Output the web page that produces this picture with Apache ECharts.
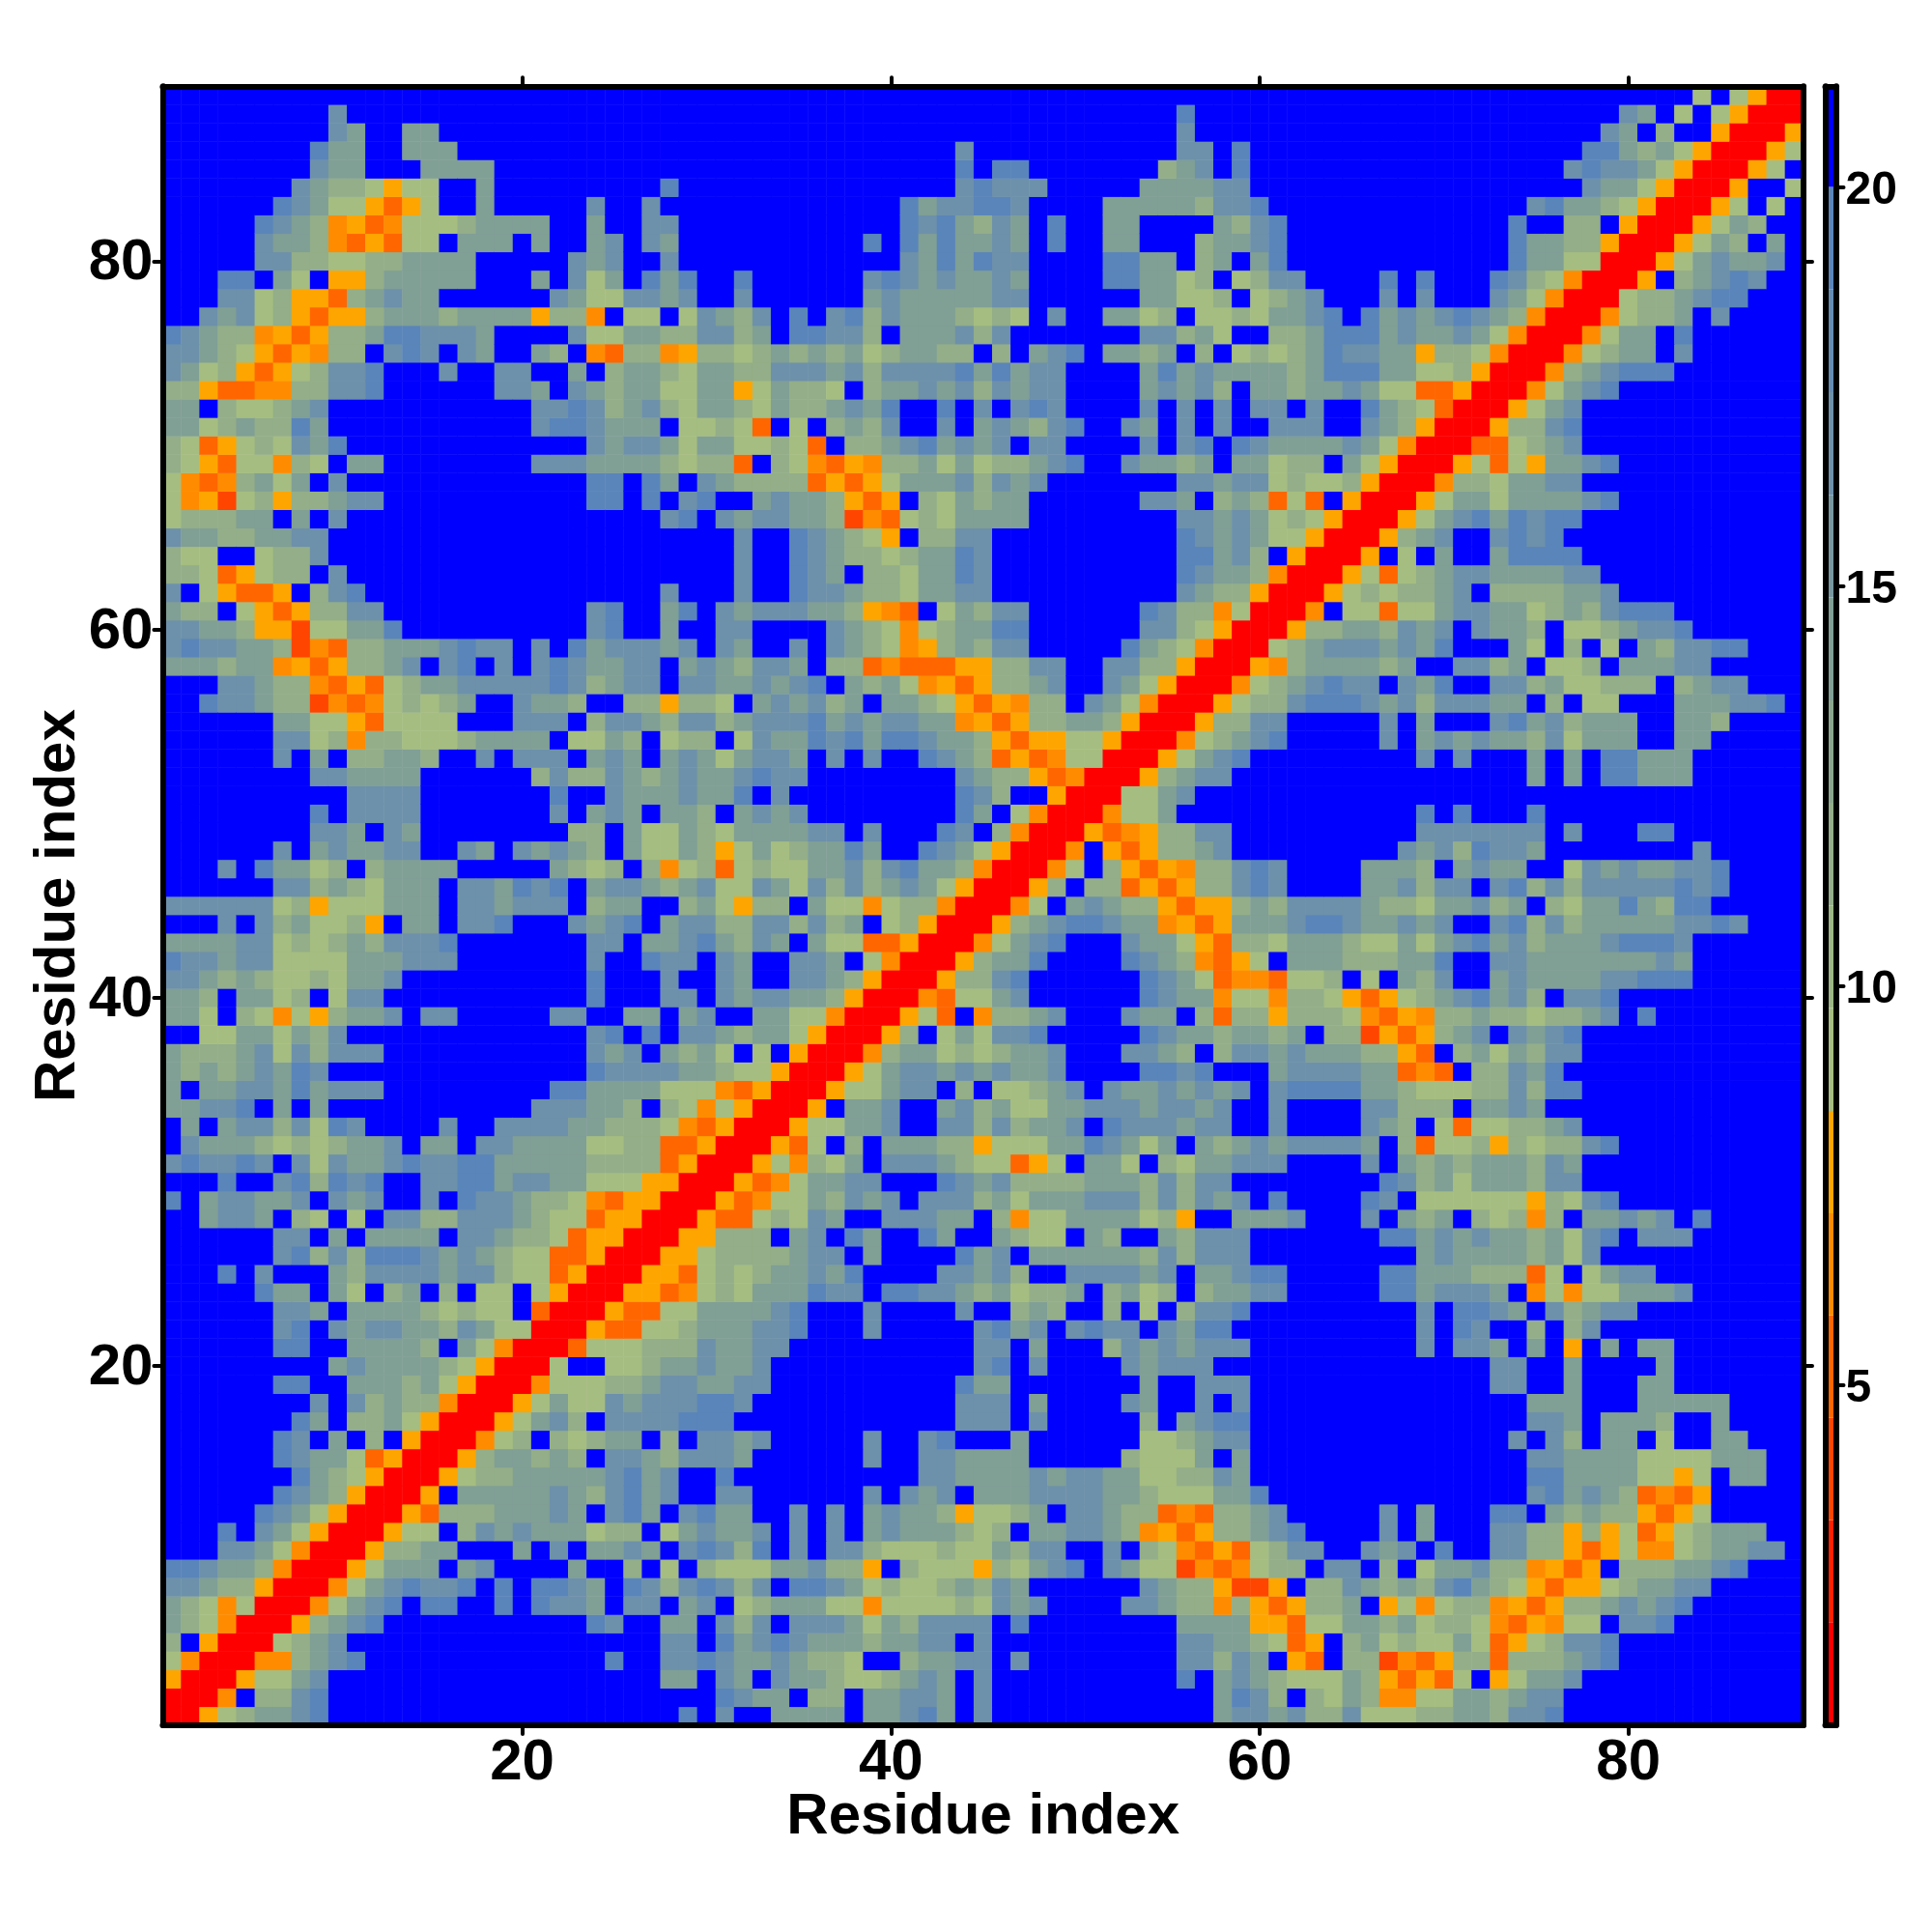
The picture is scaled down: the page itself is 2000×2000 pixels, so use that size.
<!DOCTYPE html>
<html><head><meta charset="utf-8">
<style>html,body{margin:0;padding:0;background:#fff}#c{width:2000px;height:2000px}</style>
<script src="https://cdn.jsdelivr.net/npm/echarts@6/dist/echarts.min.js"></script>
</head><body><div id="c"></div>
<script>
// Upper triangle of the symmetric matrix: each row r begins at column r,
// spaces mark column decades. Codes name a distance bin of the colour scale.
const rowsUpper = [
"RR5abccde. .......... ........e. d..cccc.cc dec.d..... .......cdd cdbbdaaabb ccbdde.... .........",
"RR4.bbde. .......... .......... edcc.bb.cc ddc.d..... .......ced b.bacb44aa ccbcdd.... .........",
"RR5aacd. .......... .......cc. dc.dccbaab cdc.d..... .....e.cdc baaacb5353 a.5accd... .........",
"RR44bcd e......... ....e..dde dccdcbba.. bccdd.d... .....ddbdc .53.bb2435 bb3bbbcde. .........",
"RRabcd .......... .......dd. ecdedcccbc cdd.d..... .....ddccb a35.bcabaa ca35abdde. .........",
"RR5bc de........ ...ed..cc. dbd.dddcac bdddd.e... .....cccc5 53aaccbcab ba4354aa.d de.......",
"RR4a cde.ee..e. eddc.dd.cd .abcccaa4a aaabadcd.. ..ddcbb4b5 35bbc.5a4a bb4535bbcd cde......",
"RR4 acdedde.e. eedc.edbde dbd.eedcab aabcbdc... ...dcbb522 5.bbdcbcbd ecba5355ab ccdd.....",
"RR 5accc.cd.. ..c..b.a.b aaaccdbb5. baaa5bacde .dcaa2434a bb.dd.b.ac cdbb4535.b bbccde...",
"R R5bbcc...c .d.ccdc.de dbe.d.ddba aabaacbdd. .d.ba4353a bdd..dcd.e ..ddbb535a 44abccdd.",
"RR5aa.bdcd cccabb.acd ccd.d.d.cd cccbab.ccd dcb4535bbc de....d.c. ..ddbb5b5a 35abccc..",
"RR53bbbcc cdc.dec.de cc..d.d.cd ccb5aabc.d dcbb343bbc d.....d.c. ..ee.cbcbb 535a.....",
"RR5.cccc cdcbdecd.. dd......d. dcd.cccddd dccbaaacce .......... ....decdcb 3435.....",
"RR5abbc ccccdecd.. e......... .ddccccdcd dccaabbdc. .......... ....eecccc aa5a.cc..",
"RR5bcc bcb.ddcbdd dc......d. .ddcccc... ..baaac.c. .......... ....ddcccc aaaaccc..",
"RR4ab .babcc.b.d dcd.....d. .de...c... ...aabcdd. .......... ...d.db.cc .a..cc...",
"RR5a cdb.ddddee e......... ...ddd.d.. ...b.cdee. .......... ....ddc.cc cb..c....",
"RR5 acaadcddde ed........ ...ddd.c.. ..dc..d.d. .......... ....ccc... ccccc....",
"RR 4aaabbcddc cdd....... ...ecc.... ...c..ddd. .......... ..dd..c... cc.......",
"R Ra..aabccd ccd....... ....de.d.. ..dcddd... .......... ..dd..c... .c.......",
"RR3aaabbbd ccdd...... ....dd.c.. .bdcdcddd. ........d. ddc.c.5.c. cc.......",
"RR533aabc ccdde...d. ....decd.d edd.dcee.. ........d. ed..b.bd.. .........",
"RR533aac cccde...d. ...d..bcb. .b.a.bdde. ........d. eedc.dbcdd .........",
"RR5534a bacccedd.e eddcbcabbc .bcab.bccd d.....eecd ddc.4a4aac ccd......",
"RR553a babccdce.. ..ddcdb..d dddcd.ccde e.....eecc cbbb3a.acd d........",
"RR55a bbbbcdd.c. ...ecd.ccc cccbdbddd. ........cd ccccbcad.. .........",
"RR55 bbb.cd.ec. .ec..cbaa. cb..cbddd. ......eecd cdccbcade. ddd......",
"RR5 33abadc..d ddcc.b4aac cccab5..cc cd...d.cbc .bab4b.ccd cd.e.....",
"RR 534aacbdcd .dddbcaccc dddbdbdcd. e....ed.aa aaaa5bade. .........",
"R R534accdd. ..edcdbbbb cccbdbdd.. ......edbc acccbdd... .........",
"RR5a4bac.d ddcbaa35a. cca.baccdd d....d.cbc bcccbdc... .........",
"RR53a.b.c ccbb5aaacc edcac.cbcd cddddc.b3a ab5babbde. .........",
"RR5aaccd ..ddbdbccd .edddcdd.. d....dcb.a 3aabbcd... .........",
"RR5.ccd ..cdbcaacc dddcddcd.. d....ddbbb .ccdc..... .........",
"RR5aac dd.b.aabcd .dccdcdcd. deeeeccbaa abbdbee... .........",
"RR5ac ddcdcdccd. ...eede... cddddcc343 .bbdce.... .........",
"RR4b ccababccd. ..ddcb.bdd cdcccbb53. bcacbdd... .........",
"RR5 b.acadde.. ...edccbcc bc.bb2535b cd.dcde... .........",
"RR 5a3.4bbcd. ..dcc.b3bb 5bbba4354b bcbbabbcd. e........",
"R R43aacd... ...edcc4aa 4bba535abc decdb.dde. .........",
"RR5bbde... ...edca344 3aab.a.cbd ..cdccccdd eee......",
"RR5bcce.. ..edcb435a .cccbbbcce ..ddcccccc cdc......",
"RR4acde. ..dcca53bb acccbaacac decdbcccde eed......",
"RR5bcde edcc4535cc cdeedccdcd ..debdbccc ccdded...",
"RR4a.c dcbb5355bc bddddcbbac cdbc.bacce cbee.....",
"RR5b. bb3535bbde d....ccdbd d.debdbddd ddede....",
"RR4a .b5354bbde d....cccb. cdcc..adcd ccdde....",
"RR4 .535bbcd.. .......dcd beddc..... ...d.....",
"RR 5345bbdd.. ........dd ddddd.d... ee.......",
"R R4aac..... ........e. e...e..... .........",
"RRaacd.... .......... .......... .........",
"RR5bcdd.. .......... ....c.c.ee ccc......",
"RR5acde. ........d. d...c.c.ee ccc......",
"RR4abcd e.....d.cd cdccbdaccc ..cc.....",
"RR5bbd d.....d.c. ..decdbccc ..ccb....",
"RR5ab bdeeedcdbd ddcc.b.aa. ..cccdde.",
"RR4a bcdedd.dce ..ddbcaabb b.bcdd...",
"RR5 4bccccbc.. ddbc.aab.c ccdd.....",
"RR abcdddcdce ...ca.b.a. cbddee...",
"R R5bbccbdcd .dccb.aabc dde......",
"RR4.aa3aac ddccabcbde ee.......",
"RR5ababbc d.bbbbccd. .........",
"RR5a3abc ddccccdd.. .........",
"RR5.a.c ..ceeee... .........",
"RR5bcd ..dede.... .........",
"RR5ac decedee... .........",
"RR5a ccaccccde. .........",
"RR4 bbaccdd... .........",
"RR 5a3a5ccde. .........",
"R R33abcd... .........",
"RR5bbde... .........",
"RR5acd... .........",
"RR4acde. .........",
"RR4bcde ee.......",
"RR4abc c.d......",
"RR4ac c.e......",
"RR4a bbc.d....",
"RRa bbcdee...",
"RR 5.bcded..",
"R R5acdccd.",
"RR5acb.c.",
"RR5acb..",
"RR5a.a.",
"RR5..a",
"RR5a.",
"RR5a",
"RR5",
"RR",
"R"
];
const levelValue = {R:1.4,'2':3.95,'3':5.2,'4':6.5,'5':7.8,a:9.0,b:11.6,c:14.2,d:16.8,e:19.3,'.':20.6};
const binBreaks = [0.74,2.03,3.31,4.59,5.87,7.15,8.43,9.72,11.0,12.29,13.57,14.86,16.14,17.43,18.72,20.0,21.26];
const binColors = ['#ff0000','#ff2000','#ff4500','#ff6600','#ff8c00','#ffa500','#a5bd80','#9cb684','#93ae88','#8aa78d','#809f95','#7798a0','#6d91aa','#648bb2','#5a85ba','#0000ff'];
const residueTicks = [20,40,60,80];
const scaleTicks = [5,10,15,20];
const axisTitle = 'Residue index';
const FONT = '"Liberation Sans", Arial, sans-serif';

const N = rowsUpper.length;
const residues = Array.from({length:N},(_,i)=>String(i+1));
const cells = [];
rowsUpper.forEach((s,r)=>{
  const t = s.replace(/ /g,'');
  for(let k=0;k<N-r;k++){
    const c = r+k, v = levelValue[t[k]||'.'];
    cells.push([c,r,v]);
    if(c!==r) cells.push([r,c,v]);
  }
});
const isTick = i => residueTicks.includes(i+1);
const line = {show:true,onZero:false,lineStyle:{color:'#000',width:6,cap:'round'}};
const tickStyle = {show:true,length:9,alignWithLabel:true,interval:isTick,lineStyle:{color:'#000',width:4,cap:'round'}};
const noTick = {show:false};
const label = {show:true,interval:isTick,color:'#000',fontFamily:FONT,fontWeight:'bold',fontSize:60};
const nameStyle = {color:'#000',fontFamily:FONT,fontWeight:'bold',fontSize:60};
const G = {left:168.4,top:89.3,width:1698.6,height:1696.6,outerBoundsMode:'none',containLabel:false};
const B = {left:1889.5,top:89.3,width:11,height:1696.6,outerBoundsMode:'none',containLabel:false};

const chart = echarts.init(document.getElementById('c'),null,{renderer:'canvas'});
chart.setOption({
  animation:false,
  backgroundColor:'#fff',
  grid:[G,B],
  xAxis:[
    {type:'category',gridIndex:0,position:'bottom',data:residues,z:10,axisLine:line,axisTick:tickStyle,
     axisLabel:Object.assign({margin:10},label),splitLine:{show:false},
     name:axisTitle,nameLocation:'middle',nameGap:66,nameMoveOverlap:false,nameTextStyle:nameStyle},
    {type:'category',gridIndex:0,position:'top',data:residues,z:10,axisLine:line,axisTick:tickStyle,axisLabel:{show:false},splitLine:{show:false}},
    {type:'category',gridIndex:1,position:'bottom',data:['bar'],z:10,axisLine:line,axisTick:noTick,axisLabel:{show:false}},
    {type:'category',gridIndex:1,position:'top',data:['bar'],z:10,axisLine:line,axisTick:noTick,axisLabel:{show:false}}
  ],
  yAxis:[
    {type:'category',gridIndex:0,position:'left',data:residues,z:10,axisLine:line,axisTick:tickStyle,
     axisLabel:Object.assign({margin:10,verticalAlign:'top',lineHeight:5},label),splitLine:{show:false},
     name:axisTitle,nameLocation:'middle',nameGap:78,nameMoveOverlap:false,nameTextStyle:nameStyle},
    {type:'category',gridIndex:0,position:'right',data:residues,z:10,axisLine:line,axisTick:tickStyle,axisLabel:{show:false},splitLine:{show:false}},
    {type:'value',gridIndex:1,position:'right',min:binBreaks[0],max:binBreaks[binBreaks.length-1],z:10,axisLine:line,
     axisTick:{show:true,length:8,customValues:scaleTicks,lineStyle:{color:'#000',width:4,cap:'round'}},
     axisLabel:{show:true,customValues:scaleTicks,margin:10,verticalAlign:'top',lineHeight:8,color:'#000',fontFamily:FONT,fontWeight:'bold',fontSize:48},
     splitLine:{show:false}},
    {type:'value',gridIndex:1,position:'left',min:binBreaks[0],max:binBreaks[binBreaks.length-1],z:10,axisLine:line,axisTick:noTick,axisLabel:{show:false},splitLine:{show:false}}
  ],
  visualMap:{type:'piecewise',show:false,seriesIndex:0,dimension:2,
    pieces:binColors.map((color,i)=>({gte:binBreaks[i],lt:binBreaks[i+1],color}))},
  series:[
    {type:'heatmap',xAxisIndex:0,yAxisIndex:0,data:cells,progressive:0,itemStyle:{borderWidth:0},emphasis:{disabled:true}},
    ...binColors.map((color,i)=>({
      type:'bar',xAxisIndex:2,yAxisIndex:2,stack:'scale',barWidth:'100%',silent:true,
      itemStyle:{color},
      data:[i===0?binBreaks[1]:binBreaks[i+1]-binBreaks[i]]
    }))
  ]
});
</script></body></html>
